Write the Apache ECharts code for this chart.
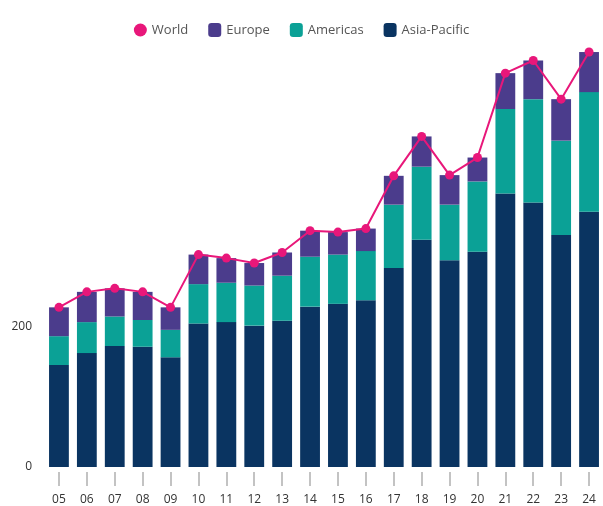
<!DOCTYPE html>
<html>
<head>
<meta charset="utf-8">
<script src="https://cdn.jsdelivr.net/npm/echarts@6/dist/echarts.min.js"></script>
<style>
html,body{margin:0;padding:0;background:#fff;}
#chart{width:603px;height:506px;}
</style>
</head>
<body>
<div id="chart"></div>
<script>
const years = ['05','06','07','08','09','10','11','12','13','14','15','16','17','18','19','20','21','22','23','24'];
const asiaPacific = [145,162,172,171,156,204,206,201,208,228,232,237,283,323,294,306,389,376,330,363];
const americas    = [41,44,42,38,39,56,56,57,64,71,70,70,90,104,79,100,120,147,134,170];
const europe      = [41,43,40,40,32,42,35,32,33,37,32,32,41,43,42,34,51,55,59,57];
const world       = [227,249,254,249,227,302,297,290,305,336,334,339,414,470,415,440,560,578,523,590];
const yTickLabels = ['0','200'];

const chart = echarts.init(document.getElementById('chart'), null, {renderer:'canvas'});
chart.setOption({
  animation:false,
  backgroundColor:'#ffffff',
  legend:{
    top:18,
    left:'center',
    itemWidth:13,
    itemHeight:14,
    itemGap:20,
    textStyle:{color:'#555',fontSize:13,fontFamily:'"Open Sans", sans-serif'},
    data:[
      {name:'World',icon:'circle'},
      {name:'Europe',icon:'roundRect'},
      {name:'Americas',icon:'roundRect'},
      {name:'Asia-Pacific',icon:'roundRect'}
    ]
  },
  grid:{left:45,width:562,top:45,bottom:39,containLabel:false},
  xAxis:{
    type:'category',
    data:years,
    offset:5,
    axisLine:{show:true,onZero:false,lineStyle:{color:'#ffffff',width:0}},
    axisTick:{show:true,interval:0,alignWithLabel:true,length:14,lineStyle:{color:'#b0b0b0',width:1.5}},
    axisLabel:{color:'#333',fontSize:12,margin:22,fontFamily:'"Open Sans", sans-serif'}
  },
  yAxis:{
    type:'value',
    min:0,max:600,interval:200,
    axisLine:{show:false},
    axisTick:{show:false},
    splitLine:{show:false},
    axisLabel:{color:'#333',fontSize:12,margin:13,fontFamily:'"Open Sans", sans-serif',
      formatter:function(v){const s=String(v);return yTickLabels.indexOf(s)>=0?s:'';}}
  },
  series:[
    {name:'Asia-Pacific',type:'bar',stack:'t',data:asiaPacific,barWidth:'71%',itemStyle:{color:'#0a3461'}},
    {name:'Americas',type:'bar',stack:'t',data:americas,itemStyle:{color:'#0ba196'}},
    {name:'Europe',type:'bar',stack:'t',data:europe,itemStyle:{color:'#4b3c8c'}},
    {name:'World',type:'line',data:world,symbol:'circle',symbolSize:9,z:5,
      lineStyle:{color:'#e8177a',width:2},itemStyle:{color:'#e8177a'}}
  ]
});
</script>
</body>
</html>
